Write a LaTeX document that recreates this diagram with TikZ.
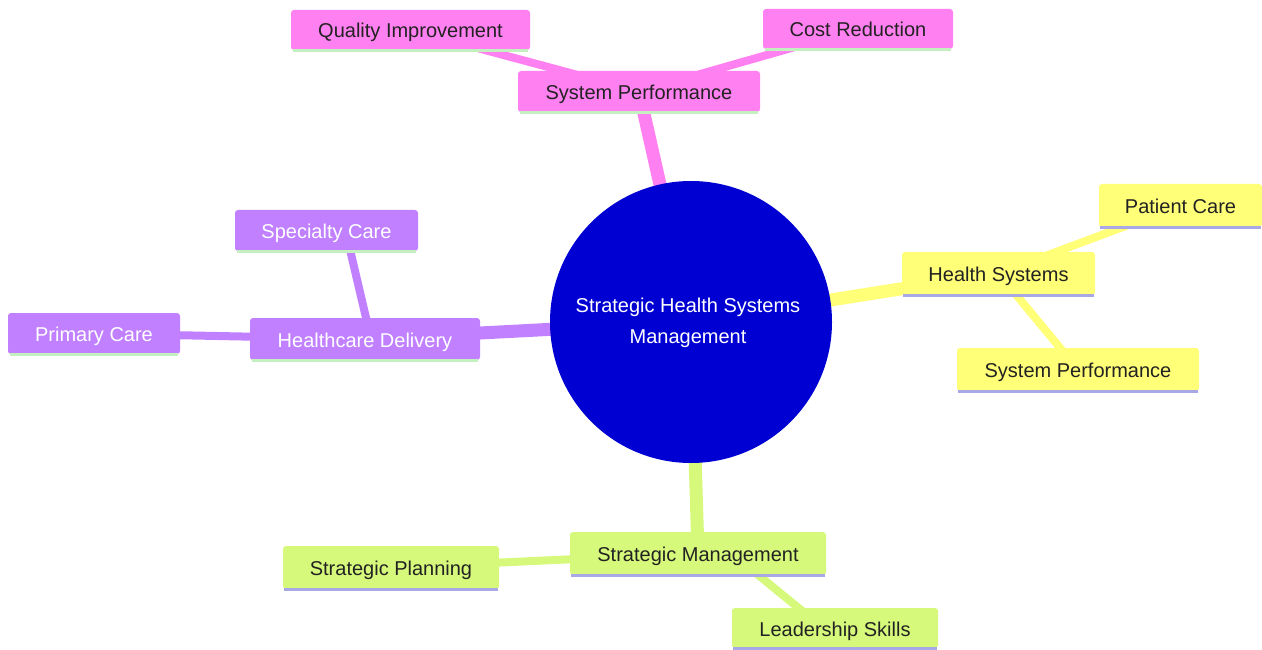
\documentclass[tikz,border=0pt]{standalone}
\usepackage{fontspec}
\setmainfont{Liberation Sans}
\usetikzlibrary{backgrounds}
\definecolor{pinkC}{HTML}{FF80F0}
\definecolor{purpC}{HTML}{C080FF}
\definecolor{yelC}{HTML}{FFFF78}
\definecolor{grnC}{HTML}{D6F97C}
\definecolor{blueC}{HTML}{0000D2}
\definecolor{lgLine}{HTML}{C4F0C0}
\definecolor{lavLine}{HTML}{A8A8E6}
\definecolor{txtC}{HTML}{222222}
\begin{document}
\begin{tikzpicture}[x=1pt,y=-1pt,
  box/.style={rounded corners=3pt, inner sep=0pt, text height=18pt, text depth=2pt, font=\fontsize{20}{24}\selectfont, text=txtC},
  pinkbox/.style={box, fill=pinkC},
  purpbox/.style={box, fill=purpC, text=white},
  yelbox/.style={box, fill=yelC},
  grnbox/.style={box, fill=grnC},
  ulg/.style={draw=lgLine, line width=3pt},
  ulav/.style={draw=lavLine, line width=3pt},
  mainln/.style={line width=13pt},
  subln/.style={line width=8pt},
]
\useasboundingbox (0,0) rectangle (1262,650);

% center
\node[circle, fill=blueC, minimum size=282pt, inner sep=0pt] (c) at (691,322) {};
\node[align=center, text=white, font=\fontsize{20}{31}\selectfont] (ct) at (688,323) {Strategic Health Systems\\Management};

% pink branch
\node[pinkbox, minimum width=242pt, minimum height=41pt] (sp) at (639,91.5) {System Performance};
\node[pinkbox, minimum width=239pt, minimum height=40pt] (qi) at (410.5,30) {Quality Improvement};
\node[pinkbox, minimum width=190pt, minimum height=40pt] (cr) at (858,29) {Cost Reduction};

% yellow branch
\node[yelbox, minimum width=193pt, minimum height=43pt] (hs) at (998.5,273.5) {Health Systems};
\node[yelbox, minimum width=163pt, minimum height=43pt] (pc) at (1180.5,205.5) {Patient Care};
\node[yelbox, minimum width=242pt, minimum height=43pt] (spy) at (1078,369.5) {System Performance};

% green branch
\node[grnbox, minimum width=256pt, minimum height=43pt] (sm) at (698,553.5) {Strategic Management};
\node[grnbox, minimum width=216pt, minimum height=43pt] (spl) at (391,567.5) {Strategic Planning};
\node[grnbox, minimum width=206pt, minimum height=40pt] (ls) at (835,628) {Leadership Skills};

% purple branch
\node[purpbox, minimum width=230pt, minimum height=42pt] (hd) at (365,339) {Healthcare Delivery};
\node[purpbox, minimum width=183pt, minimum height=41pt] (sc) at (326.5,230.5) {Specialty Care};
\node[purpbox, minimum width=172pt, minimum height=41pt] (prc) at (94,333.5) {Primary Care};

% underlines
\foreach \n in {sp,qi,cr,hd,sc,prc}{
  \draw[ulg] ([xshift=2pt]\n.south west) -- ([xshift=-2pt]\n.south east);
}
\foreach \n in {hs,pc,spy,sm,spl,ls}{
  \draw[ulav] ([xshift=1pt]\n.south west) -- ([xshift=-1pt]\n.south east);
}

\begin{scope}[on background layer]
  \draw[mainln, draw=pinkC] (c.center) -- (sp.center);
  \draw[subln, draw=pinkC] (sp.center) -- (qi.center);
  \draw[subln, draw=pinkC] (sp.center) -- (cr.center);
  \draw[mainln, draw=yelC] (c.center) -- (hs.center);
  \draw[subln, draw=yelC] (hs.center) -- (pc.center);
  \draw[subln, draw=yelC] (hs.center) -- (spy.center);
  \draw[mainln, draw=grnC] (c.center) -- (sm.center);
  \draw[subln, draw=grnC] (sm.center) -- (spl.center);
  \draw[subln, draw=grnC] ([xshift=34pt]sm.center) -- ([xshift=-12pt]ls.center);
  \draw[mainln, draw=purpC] (c.center) -- (hd.center);
  \draw[subln, draw=purpC] ([xshift=6pt]hd.center) -- ([xshift=19pt]sc.center);
  \draw[subln, draw=purpC] (hd.center) -- (prc.center);
\end{scope}
\end{tikzpicture}
\end{document}
